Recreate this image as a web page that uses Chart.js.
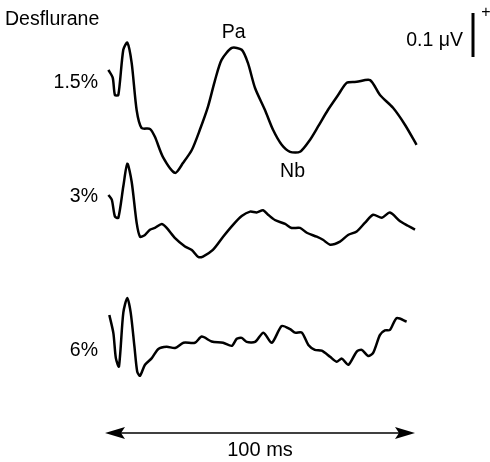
<!DOCTYPE html>
<html>
<head>
<meta charset="utf-8">
<title>Desflurane MLAEP</title>
<script src="https://cdn.jsdelivr.net/npm/chart.js@4.4.1/dist/chart.umd.min.js"></script>
<style>
    html, body { margin: 0; padding: 0; background: #fff; }
    #wrap { width: 490px; height: 462px; position: relative; }
</style>
</head>
<body>
<div id="wrap"><canvas id="aepChart"></canvas></div>
<script>
// Time in ms, amplitude in microvolts
const timeDes15 = [1.1, 2.5, 3.2, 4.3, 5.9, 7.2, 8.6, 10.2, 11.8, 14.5, 16.1, 18.7, 22.6, 25.2, 28.0, 30.6, 33.2, 35.5, 37.6, 40.9, 44.1, 46.1, 48.4, 51.6, 54.2, 57.0, 59.7, 62.9, 66.1, 68.7, 71.9, 75.2, 78.0, 81.2, 85.5, 88.7, 92.9, 96.8, 100.5];
const ampDes15 = [0.068, 0.050, 0.011, 0.011, 0.114, 0.130, 0.084, -0.023, -0.064, -0.066, -0.084, -0.130, -0.166, -0.143, -0.114, -0.068, -0.016, 0.045, 0.091, 0.118, 0.114, 0.084, 0.027, -0.023, -0.068, -0.102, -0.118, -0.118, -0.091, -0.061, -0.023, 0.011, 0.039, 0.041, 0.045, 0.011, -0.018, -0.057, -0.102];

const timeDes3 = [1.1, 2.2, 3.2, 4.3, 5.9, 7.2, 8.6, 10.2, 11.3, 12.9, 14.5, 16.1, 18.3, 19.9, 22.6, 25.8, 28.0, 30.1, 31.6, 34.8, 38.1, 41.3, 44.1, 46.8, 48.9, 51.0, 52.6, 54.8, 58.1, 60.2, 62.9, 65.1, 68.3, 70.3, 72.6, 75.8, 78.4, 81.2, 83.9, 86.5, 89.3, 91.9, 95.2, 97.7, 100.0];
const ampDes3 = [0.068, 0.057, 0.019, 0.016, 0.087, 0.139, 0.098, 0.005, -0.027, -0.023, -0.011, -0.007, 0.002, -0.007, -0.030, -0.049, -0.057, -0.073, -0.072, -0.057, -0.027, 0.000, 0.020, 0.030, 0.028, 0.033, 0.023, 0.011, 0.002, -0.007, -0.007, -0.018, -0.027, -0.034, -0.045, -0.038, -0.023, -0.015, 0.005, 0.023, 0.016, 0.028, 0.008, -0.002, -0.011];

const timeDes6 = [1.4, 2.7, 3.5, 4.5, 5.9, 7.2, 8.3, 9.5, 10.4, 11.3, 12.9, 15.1, 17.2, 19.9, 22.6, 25.3, 29.0, 31.2, 34.4, 38.1, 40.9, 42.5, 44.1, 45.7, 48.4, 51.1, 53.8, 57.0, 59.7, 61.3, 63.5, 65.6, 67.7, 69.9, 72.6, 74.7, 76.4, 78.5, 81.2, 82.8, 84.9, 86.5, 88.7, 90.3, 91.9, 94.1, 97.3];
const ampDes6 = [0.068, 0.027, -0.030, -0.049, 0.073, 0.107, 0.073, -0.004, -0.061, -0.070, -0.045, -0.030, -0.009, -0.004, -0.007, 0.005, 0.005, 0.019, 0.008, 0.005, -0.002, 0.014, 0.016, 0.007, 0.007, 0.028, 0.005, 0.043, 0.036, 0.028, 0.028, 0.000, -0.011, -0.013, -0.027, -0.038, -0.031, -0.045, -0.015, -0.011, -0.025, -0.018, 0.023, 0.033, 0.034, 0.061, 0.053];

const traceLabels = ['1.5%', '3%', '6%'];
const traceTimes = [timeDes15, timeDes3, timeDes6];
const traceAmps = [ampDes15, ampDes3, ampDes6];

// Layout: each trace is shifted up so the three stack vertically
const traceShift = [0.823, 0.539, 0.266];
const scaleBarUv = 0.1;
const timeBarMs = 100;

const FONT = '"Liberation Sans", Arial, Helvetica, sans-serif';

function buildPoints(i) {
    return traceTimes[i].map((t, k) => ({ x: t, y: traceAmps[i][k] + traceShift[i] }));
}

// Draw labels, scale bar and time arrow on top of the traces
const annotations = {
    id: 'annotations',
    afterDraw(chart) {
        const ctx = chart.ctx;
        const xs = chart.scales.x;
        const ys = chart.scales.y;
        ctx.save();
        ctx.fillStyle = '#000';
        ctx.strokeStyle = '#000';
        ctx.font = '19.5px ' + FONT;
        ctx.textBaseline = 'middle';

        ctx.textAlign = 'left';
        ctx.fillText('Desflurane', 5, 20);

        // trace labels, right aligned left of each trace
        ctx.textAlign = 'right';
        const labelY = [83, 197, 351];
        traceLabels.forEach((lab, i) => ctx.fillText(lab, 98, labelY[i]));

        // Pa / Nb on the 1.5% trace
        ctx.textAlign = 'center';
        ctx.fillText('Pa', xs.getPixelForValue(41.5), 33);
        ctx.fillText('Nb', xs.getPixelForValue(60.5), 172);

        // amplitude scale bar
        const barX = 473;
        const barTop = 13;
        const barBottom = barTop + (ys.getPixelForValue(0) - ys.getPixelForValue(scaleBarUv));
        ctx.lineWidth = 3;
        ctx.beginPath();
        ctx.moveTo(barX, barTop);
        ctx.lineTo(barX, barBottom);
        ctx.stroke();
        ctx.textAlign = 'right';
        ctx.fillText('0.1 \u03bcV', 463, 41);
        ctx.font = '16px ' + FONT;
        ctx.textAlign = 'center';
        ctx.fillText('+', 486, 13);

        // time arrow
        const x0 = xs.getPixelForValue(0);
        const x1 = xs.getPixelForValue(timeBarMs);
        const ay = 433;
        ctx.lineWidth = 1.5;
        ctx.beginPath();
        ctx.moveTo(x0 + 10, ay);
        ctx.lineTo(x1 - 10, ay);
        ctx.stroke();
        ctx.beginPath();
        ctx.moveTo(x0, ay);
        ctx.lineTo(x0 + 20, ay - 6);
        ctx.lineTo(x0 + 16, ay);
        ctx.lineTo(x0 + 20, ay + 6);
        ctx.closePath();
        ctx.fill();
        ctx.beginPath();
        ctx.moveTo(x1, ay);
        ctx.lineTo(x1 - 20, ay - 6);
        ctx.lineTo(x1 - 16, ay);
        ctx.lineTo(x1 - 20, ay + 6);
        ctx.closePath();
        ctx.fill();
        ctx.font = '20px ' + FONT;
        ctx.textAlign = 'center';
        ctx.fillText('100 ms', (x0 + x1) / 2, 450);
        ctx.restore();
    }
};

document.addEventListener('DOMContentLoaded', function() {
    const ctx = document.getElementById('aepChart');
    new Chart(ctx, {
        type: 'line',
        data: {
            datasets: traceLabels.map((lab, i) => ({
                label: lab,
                data: buildPoints(i),
                borderColor: '#000',
                borderWidth: 2.5,
                pointRadius: 0,
                tension: 0.25,
                fill: false
            }))
        },
        options: {
            responsive: true,
            maintainAspectRatio: false,
            animation: false,
            layout: { padding: 0 },
            plugins: {
                legend: { display: false },
                tooltip: { enabled: false }
            },
            scales: {
                x: { type: 'linear', display: false, min: -33.87, max: 124.19 },
                y: { type: 'linear', display: false, min: 0, max: 1.05 }
            }
        },
        plugins: [annotations]
    });
});
</script>
</body>
</html>
